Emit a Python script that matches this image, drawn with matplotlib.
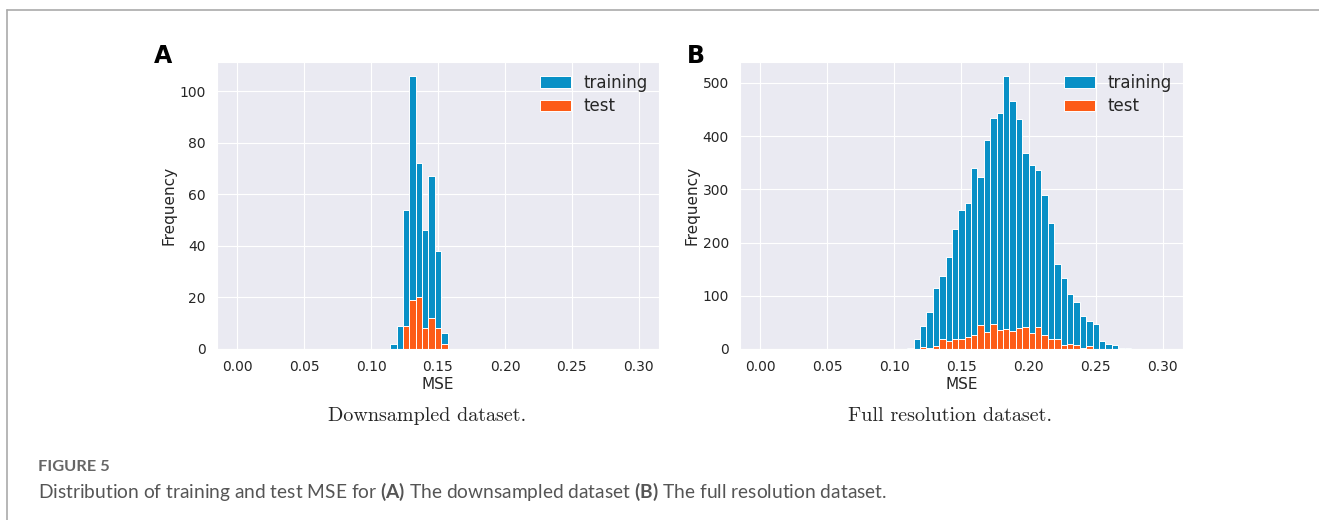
import numpy as np
import matplotlib
matplotlib.use("Agg")
import matplotlib.pyplot as plt
import seaborn as sns

# histogram bin edges shared by both panels
edges = np.linspace(0, 0.3, 64)

# panel A: downsampled dataset, counts starting at bin 24
a_start = 24
a_train = [2, 9, 54, 106, 72, 46, 67, 38, 6]
a_test = [0, 0, 9, 19, 20, 8, 12, 8, 2]

# panel B: full resolution dataset, counts starting at bin 23
b_start = 23
b_train = [1, 18, 43, 70, 115, 137, 172, 225, 262, 274, 340, 323, 393, 434, 444,
           514, 466, 432, 368, 346, 337, 290, 237, 160, 134, 103, 88, 61, 53, 46,
           14, 9, 8, 2, 1]
b_test = [0, 0, 4, 1, 6, 19, 15, 19, 18, 23, 26, 45, 31, 46, 36,
          38, 33, 40, 41, 29, 41, 27, 19, 18, 8, 9, 7, 1, 5, 0,
          0, 0, 0, 0, 0]

xticks = [0.00, 0.05, 0.10, 0.15, 0.20, 0.25, 0.30]
blue = "#0890c6"
orange = "#fd5c17"

sns.set_style("darkgrid")
plt.rcParams["font.family"] = ["DejaVu Sans"]
plt.rcParams["mathtext.fontset"] = "custom"
plt.rcParams["mathtext.rm"] = "Lato"
plt.rcParams["mathtext.bf"] = "Lato:bold"

fig = plt.figure(figsize=(13.19, 5.2), dpi=100)


def full_counts(start, vals):
    c = np.zeros(len(edges) - 1)
    c[start:start + len(vals)] = vals
    return c


def panel(rect, start, train, test, letter, letter_x, caption, yticks):
    ax = fig.add_axes(rect)
    centers = edges[:-1]
    ax.hist(centers, bins=edges, weights=full_counts(start, train), color=blue,
            edgecolor="white", linewidth=0.7, label="training")
    ax.hist(centers, bins=edges, weights=full_counts(start, test), color=orange,
            edgecolor="white", linewidth=0.7, label="test")
    ax.set_xlim(-0.015, 0.315)
    ax.set_xticks(xticks)
    ax.set_xticklabels(["%.2f" % t for t in xticks])
    ax.set_yticks(yticks)
    ax.tick_params(labelsize=10, colors=".15", pad=4.5)
    ax.set_xlabel("MSE", fontsize=11, color=".15", labelpad=2)
    ax.set_ylabel("Frequency", fontsize=11, color=".15", labelpad=2)
    ax.legend(loc="upper right", frameon=False, fontsize=12,
              handlelength=1.9, handletextpad=0.7, borderaxespad=0.3,
              labelspacing=0.35)
    ax.text(letter_x, 0.997, letter, transform=ax.transAxes, fontsize=17,
            fontweight="bold", va="baseline", ha="left", color="black")
    ax.text(0.475, -0.235, caption, transform=ax.transAxes, fontsize=14.5,
            family="cmr10", ha="center", va="center")
    return ax


panel([0.1645, 0.329, 0.3351, 0.552], a_start, a_train, a_test, "A", -0.1425,
      "Downsampled dataset.", [0, 20, 40, 60, 80, 100])
panel([0.561, 0.329, 0.3359, 0.552], b_start, b_train, b_test, "B", -0.12,
      "Full resolution dataset.", [0, 100, 200, 300, 400, 500])

# page frame lines (top and left)
fig.add_artist(plt.Line2D([0.005, 1.0], [0.981, 0.981], color="#aaaaaa",
                          linewidth=1.2, transform=fig.transFigure))
fig.add_artist(plt.Line2D([0.005, 0.005], [0.0, 0.981], color="#aaaaaa",
                          linewidth=1.2, transform=fig.transFigure))

fig.text(0.029, 0.102, "FIGURE 5", fontsize=11.8, fontweight="bold",
         color="#666666", family="Lato", va="center")
fig.text(0.029, 0.053,
         "Distribution of training and test MSE for $\\bf{(A)}$ The downsampled dataset "
         "$\\bf{(B)}$ The full resolution dataset.",
         fontsize=13.8, color="#555555", family="Lato", va="center")

fig.savefig("out.png", dpi=100)
